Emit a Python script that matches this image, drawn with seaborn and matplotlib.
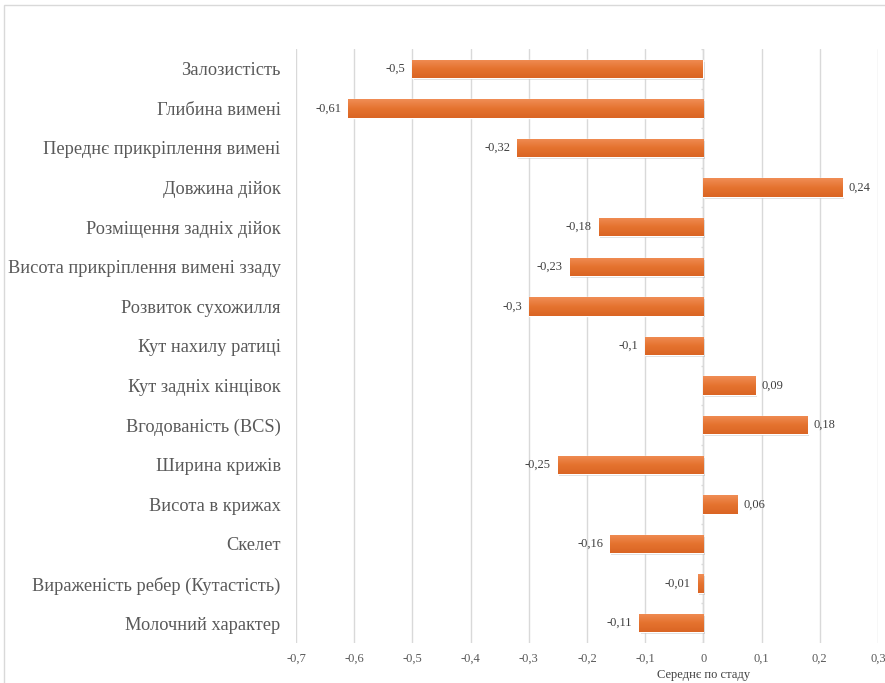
import matplotlib
matplotlib.use("Agg")
import matplotlib.pyplot as plt
import seaborn as sns
import numpy as np
import pandas as pd
from matplotlib.ticker import FuncFormatter, MultipleLocator
from matplotlib.patches import Rectangle
from matplotlib.colors import LinearSegmentedColormap

categories = [
    "Залозистість",
    "Глибина вимені",
    "Переднє прикріплення вимені",
    "Довжина дійок",
    "Розміщення задніх дійок",
    "Висота прикріплення вимені ззаду",
    "Розвиток сухожилля",
    "Кут нахилу ратиці",
    "Кут задніх кінцівок",
    "Вгодованість (BCS)",
    "Ширина крижів",
    "Висота в крижах",
    "Скелет",
    "Вираженість ребер (Кутастість)",
    "Молочний характер",
]
values = [-0.5, -0.61, -0.32, 0.24, -0.18, -0.23, -0.3, -0.1, 0.09, 0.18,
          -0.25, 0.06, -0.16, -0.01, -0.11]
xlabel = "Середнє по стаду"

df = pd.DataFrame({"trait": categories, "value": values})

sns.set_theme(style="white")
plt.rcParams["font.family"] = ["Liberation Serif", "DejaVu Serif"]

fig = plt.figure(figsize=(8.85, 6.83), dpi=100)
ax = fig.add_axes([296 / 885, 1 - 643 / 683, (878 - 296) / 885, (643 - 49) / 683])

sns.barplot(data=df, x="value", y="trait", orient="h", color="#E8763A",
            width=0.46, ax=ax, saturation=1, zorder=3)

ax.set_xlim(-0.7, 0.3)
ax.set_ylim(14.5, -0.5)
ax.xaxis.set_major_locator(MultipleLocator(0.1))

def fmt(v, pos):
    v = round(v, 1)
    if abs(v) < 1e-9:
        return "0"
    return ("%g" % v).replace(".", ",")

ax.xaxis.set_major_formatter(FuncFormatter(fmt))
ax.grid(axis="x", color="#D9D9D9", linewidth=1, zorder=0)
ax.grid(axis="y", visible=False)
for s in ax.spines.values():
    s.set_visible(False)
ax.axvline(0, color="#D9D9D9", linewidth=1, zorder=2)
# small ticks on the zero axis at category boundaries
for b in np.arange(-0.5, 15, 1):
    ax.plot([-0.0045, 0], [b, b], color="#D9D9D9", linewidth=1, zorder=2,
            solid_capstyle="butt")

ax.tick_params(axis="x", length=0, labelsize=9, labelcolor="#595959", pad=7)
ax.tick_params(axis="y", length=0, labelsize=13.2, labelcolor="#595959", pad=11)
ax.set_ylabel("")
ax.set_xlabel("")
ax.text(0, -0.054, xlabel, transform=ax.get_xaxis_transform(), ha="center",
        va="center", fontsize=9, color="#404040")

# gradient fill and shadow on bars
cmap = LinearSegmentedColormap.from_list("g", ["#F08D55", "#E5732F", "#DA6524"])
grad = np.linspace(0, 1, 64).reshape(-1, 1)
for p in list(ax.patches):
    x0, y0 = p.get_x(), p.get_y()
    w, h = p.get_width(), p.get_height()
    sh = Rectangle((x0 + 0.002, y0 + 0.05), w, h, facecolor="#B0B0B0", alpha=0.45,
                   edgecolor="none", zorder=2.5)
    ax.add_patch(sh)
    im = ax.imshow(grad, cmap=cmap, aspect="auto",
                   extent=(x0, x0 + w, y0 + h, y0), zorder=3.5,
                   interpolation="bicubic")
    im.set_clip_path(p)

ax.set_xlim(-0.7, 0.3)
ax.set_ylim(14.5, -0.5)

for i, v in enumerate(values):
    lab = ("%g" % v).replace(".", ",")
    if v < 0:
        ax.annotate(lab, (v, i), xytext=(-5, 0), textcoords="offset points",
                    ha="right", va="center", fontsize=9, color="#404040")
    else:
        ax.annotate(lab, (v, i), xytext=(4, 0), textcoords="offset points",
                    ha="left", va="center", fontsize=9, color="#404040")

border = Rectangle((4 / 885, -0.1), 1.2, 1 - 5 / 683 + 0.1, transform=fig.transFigure,
                   facecolor="none", edgecolor="#D9D9D9", linewidth=1, zorder=0)
fig.patches.append(border)

fig.savefig("out.png", dpi=100)
